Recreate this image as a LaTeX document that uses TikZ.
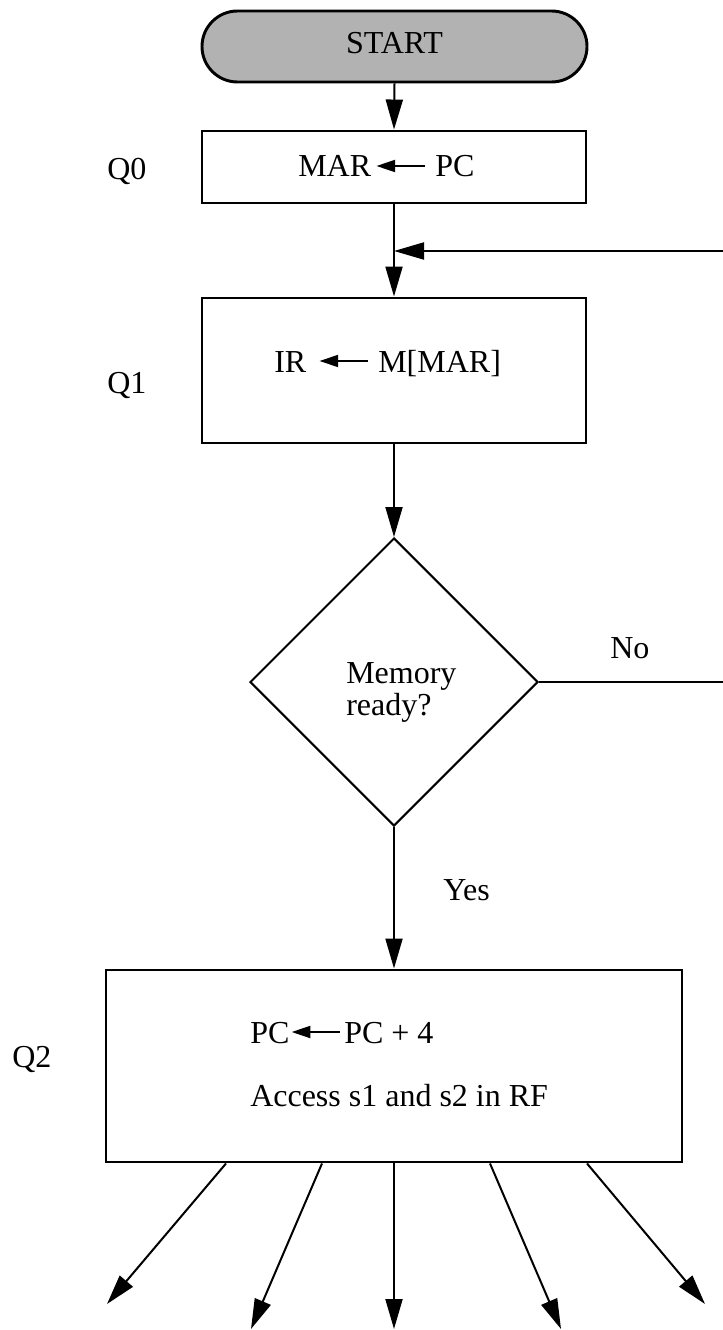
\documentclass[tikz,border=0pt]{standalone}
\usepackage{fontspec}
\setmainfont{Liberation Serif}
\usetikzlibrary{arrows.meta,shapes.geometric}

\begin{document}
\begin{tikzpicture}[x=0.75pt,y=-0.75pt,
  every node/.style={font=\fontsize{24pt}{24pt}\selectfont, inner sep=0pt},
  terminal/.style={draw, line width=2.2pt, fill=gray!60, rounded corners=26.6pt,
    minimum width=288.75pt, minimum height=53.25pt, text height=16pt, text depth=6pt},
  procbox/.style={draw, line width=2.2pt, minimum width=288pt},
  decision/.style={draw, diamond, line width=1.5pt, aspect=1,
    minimum width=216pt, minimum height=216pt},
  flow/.style={line width=1.5pt, -{Triangle[length=22.5pt,width=12.75pt]}},
  plainline/.style={line width=1.5pt},
  txtarr/.style={line width=1.5pt, -{Triangle[length=14pt,width=9pt]}},
  txt/.style={anchor=base west},
]
\useasboundingbox (0,0) rectangle (723,1330);

% start terminal
\node[terminal] (start) at (394.5,46.5) {START};

% Q0: fetch address
\node[procbox, minimum height=54pt] (q0) at (394,167) {};
\node[txt] (q0l) at (298,177) {MAR};
\node[txt] (q0r) at (435,177) {PC};
\draw[txtarr] ([xshift=-7.5pt,yshift=8.25pt]q0r.base west) -- ([xshift=3.75pt,yshift=8.25pt]q0l.base east);
\node[txt] (lq0) at (107,180) {Q0};

% Q1: instruction read
\node[procbox, minimum height=108.75pt] (q1) at (394,370.5) {};
\node[txt] (q1l) at (274,372) {IR};
\node[txt] (q1r) at (378,372) {M[MAR]};
\draw[txtarr] ([xshift=-7.5pt,yshift=8.25pt]q1r.base west) -- ([xshift=9.75pt,yshift=8.25pt]q1l.base east);
\node[txt] (lq1) at (107,393) {Q1};

% memory ready test
\node[decision] (mem) at (394,682) {};
\node[anchor=north west, align=left] (memq) at (346,662) {Memory\\ready?};
\node[txt] (lno) at (610,658) {No};
\node[txt] (lyes) at (443,900) {Yes};

% Q2: increment PC and read registers
\node[procbox, minimum width=432pt, minimum height=144pt] (q2) at (394,1066) {};
\node[txt] (q2a) at (250,1043) {PC};
\node[txt] (q2b) at (344,1043) {PC + 4};
\draw[txtarr] ([xshift=-3pt,yshift=8.25pt]q2b.base west) -- ([xshift=1.5pt,yshift=8.25pt]q2a.base east);
\node[txt] (q2c) at (250,1106) {Access s1 and s2 in RF};
\node[txt] (lq2) at (12,1067) {Q2};

% connectors
\coordinate (join) at (394,251);
\coordinate (loopin) at (723,251);
\coordinate (noout) at (723,682);
\draw[flow] (start.south) -- (q0.north);
\draw[flow] (q0.south) -- (q1.north);
\draw[flow] (loopin) -- (join);
\draw[flow] (q1.south) -- (mem.north);
\draw[plainline] (mem.east) -- (noout);
\draw[flow] (mem.south) -- (q2.north);

% dispatch to the execution states
\coordinate (e1) at (107,1304);
\coordinate (e2) at (251,1329);
\coordinate (e3) at (394,1329);
\coordinate (e4) at (561,1329);
\coordinate (e5) at (705,1304);
\draw[flow] ([xshift=-126pt]q2.south) -- (e1);
\draw[flow] ([xshift=-54pt]q2.south) -- (e2);
\draw[flow] (q2.south) -- (e3);
\draw[flow] ([xshift=72pt]q2.south) -- (e4);
\draw[flow] ([xshift=144.75pt]q2.south) -- (e5);
\end{tikzpicture}
\end{document}
